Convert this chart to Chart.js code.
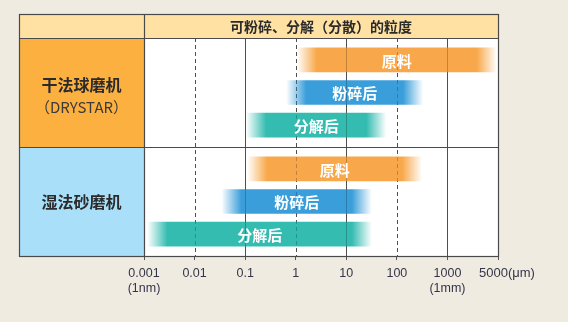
<!DOCTYPE html>
<html><head><meta charset="utf-8">
<script src="https://cdn.jsdelivr.net/npm/chart.js@4/dist/chart.umd.min.js"></script>
<style>html,body{margin:0;padding:0;background:#EFEBE1;}canvas{display:block;}</style>
</head><body>
<canvas id="c" width="568" height="322"></canvas>
<script>
// ---- data ----
const title = '可粉碎、分解（分散）的粒度';
const machines = ['干法球磨机', '湿法砂磨机'];
const machineSub = ['（DRYSTAR）', ''];
const stages = ['原料', '粉碎后', '分解后'];
// size ranges in µm, [min, max] per machine (dry, wet)
const rawRange = [[1.05, 4900], [0.11, 316]];
const crushedRange = [[0.65, 330], [0.034, 32]];
const dispersedRange = [[0.105, 62], [0.00117, 32]];
const tickValues = [0.001, 0.01, 0.1, 1, 10, 100, 1000, 5000];
const tickLabels = [['0.001', '(1nm)'], '0.01', '0.1', '1', '10', '100', ['1000', '(1mm)'], '5000(μm)'];
const dashedTicks = [0.01, 1, 100];

// ---- styles ----
const stageColors = [[248, 168, 74], [58, 158, 218], [52, 188, 177]];
const cellColors = ['#FBB040', '#AADFF9'];
const FADE = 20;

// axis position: log decades up to 1000, last step 1000→5000 spans one decade
function pos(v) { return v <= 1000 ? Math.log10(v) : 3 + (v - 1000) / 4000; }
function rowY(m, s) { return m * 3 + 0.6 + 0.9 * s; }
const ranges = [rawRange, crushedRange, dispersedRange];

function rgba(c, a) { return `rgba(${c[0]},${c[1]},${c[2]},${a})`; }

const datasets = stages.map((st, si) => ({
  label: st,
  data: machines.map((m, mi) => ({ y: rowY(mi, si), x: [pos(ranges[si][mi][0]), pos(ranges[si][mi][1])] })),
  barThickness: 24,
  grouped: false,
  borderWidth: 0,
  borderSkipped: false,
  backgroundColor: (c) => {
    const col = stageColors[si];
    if (c.type !== 'data' || !c.raw) return rgba(col, 1);
    const xs = c.chart.scales.x;
    if (!xs || !isFinite(xs.left)) return rgba(col, 1);
    const x0 = xs.getPixelForValue(c.raw.x[0]), x1 = xs.getPixelForValue(c.raw.x[1]);
    if (!isFinite(x0) || !isFinite(x1) || x1 - x0 < 2) return rgba(col, 1);
    const g = c.chart.ctx.createLinearGradient(x0, 0, x1, 0);
    const f = Math.min(0.45, FADE / (x1 - x0));
    g.addColorStop(0, rgba(col, 0));
    g.addColorStop(f, rgba(col, 1));
    g.addColorStop(1 - f, rgba(col, 1));
    g.addColorStop(1, rgba(col, 0));
    return g;
  }
}));

const FRAME = { left: 19, top: 14, headerBottom: 38 };
const LINE = '#4a4a4a';

function drawGrid(chart, color, alpha) {
  const { ctx, chartArea: a, scales: { x } } = chart;
  ctx.save();
  ctx.globalAlpha = alpha;
  ctx.strokeStyle = color; ctx.lineWidth = 1;
  tickValues.slice(1, -1).forEach(v => {
    const px = Math.round(x.getPixelForValue(pos(v))) + 0.5;
    ctx.setLineDash(dashedTicks.includes(v) ? [4, 3] : []);
    ctx.beginPath(); ctx.moveTo(px, a.top); ctx.lineTo(px, a.bottom); ctx.stroke();
  });
  ctx.restore();
}

const deco = {
  id: 'deco',
  beforeDraw(chart) {
    const { ctx, chartArea: a, width, height } = chart;
    ctx.save();
    ctx.fillStyle = '#EFEBE1'; ctx.fillRect(0, 0, width, height);
    ctx.fillStyle = '#FFE1A3';
    ctx.fillRect(FRAME.left, FRAME.top, a.right - FRAME.left, FRAME.headerBottom - FRAME.top);
    const mid = (a.top + a.bottom) / 2;
    ctx.fillStyle = cellColors[0]; ctx.fillRect(FRAME.left, a.top, a.left - FRAME.left, mid - a.top);
    ctx.fillStyle = cellColors[1]; ctx.fillRect(FRAME.left, mid, a.left - FRAME.left, a.bottom - mid);
    ctx.fillStyle = '#fff'; ctx.fillRect(a.left, a.top, a.right - a.left, a.bottom - a.top);
    // header title
    ctx.fillStyle = '#2b2b2b';
    ctx.font = 'bold 14px "Noto Sans CJK SC"';
    ctx.textAlign = 'center'; ctx.textBaseline = 'middle';
    ctx.fillText(title, (a.left + a.right) / 2, (FRAME.top + FRAME.headerBottom) / 2 + 1);
    // machine labels
    const cx = (FRAME.left + a.left) / 2;
    ctx.font = 'bold 16px "Noto Sans CJK SC"';
    ctx.fillStyle = '#2b2b2b';
    ctx.fillText(machines[0], cx, mid - 62);
    ctx.font = '15px "Noto Sans CJK SC"';
    ctx.fillStyle = '#3a3a3a';
    ctx.fillText(machineSub[0], cx, mid - 40);
    ctx.font = 'bold 16px "Noto Sans CJK SC"';
    ctx.fillStyle = '#2b2b2b';
    ctx.fillText(machines[1], cx, mid + 55);
    ctx.restore();
  },
  beforeDatasetsDraw(chart) { drawGrid(chart, '#666', 1); },
  afterDatasetsDraw(chart) {
    drawGrid(chart, '#000', 0.22);
    const { ctx, chartArea: a } = chart;
    ctx.save();
    // bar labels
    ctx.font = 'bold 15px "Noto Sans CJK SC"';
    ctx.fillStyle = '#fff'; ctx.textAlign = 'center'; ctx.textBaseline = 'middle';
    chart.data.datasets.forEach((ds, di) => {
      chart.getDatasetMeta(di).data.forEach(el => {
        ctx.fillText(ds.label, (el.x + el.base) / 2, el.y + 1);
      });
    });
    // frame lines
    const mid = (a.top + a.bottom) / 2;
    ctx.strokeStyle = LINE; ctx.lineWidth = 1.2;
    const L = FRAME.left + 0.5, R = Math.round(a.right) + 0.5, T = FRAME.top + 0.5, B = Math.round(a.bottom) + 0.5;
    ctx.strokeRect(L, T, R - L, B - T);
    ctx.beginPath();
    ctx.moveTo(L, FRAME.headerBottom + 0.5); ctx.lineTo(R, FRAME.headerBottom + 0.5);
    ctx.moveTo(L, Math.round(mid) + 0.5); ctx.lineTo(R, Math.round(mid) + 0.5);
    ctx.moveTo(Math.round(a.left) + 0.5, T); ctx.lineTo(Math.round(a.left) + 0.5, B);
    ctx.stroke();
    ctx.restore();
  },
  afterDraw(chart) {
    const { ctx, chartArea: a, scales: { x } } = chart;
    ctx.save();
    ctx.font = '13px "Liberation Sans"';
    ctx.fillStyle = '#35354a'; ctx.textAlign = 'left'; ctx.textBaseline = 'middle';
    ctx.fillText(tickLabels[7], x.getPixelForValue(pos(5000)) - 19, a.bottom + 17.5);
    ctx.restore();
  }
};

new Chart(document.getElementById('c'), {
  type: 'bar',
  data: { datasets },
  options: {
    indexAxis: 'y',
    responsive: false,
    animation: false,
    layout: { padding: { left: 144, right: 70, top: 38, bottom: 0 } },
    plugins: { legend: { display: false }, tooltip: { enabled: false } },
    scales: {
      y: { type: 'linear', min: 0, max: 6, reverse: true, display: false, offset: false },
      x: {
        type: 'linear', min: pos(0.001), max: pos(5000),
        afterBuildTicks: s => { s.ticks = tickValues.map(v => ({ value: pos(v) })); },
        afterFit: s => { s.height = 66; },
        border: { display: false },
        grid: { drawOnChartArea: false, drawTicks: true, tickLength: 4, color: '#555', tickColor: '#555' },
        ticks: {
          autoSkip: false, maxRotation: 0, padding: 6,
          font: { family: 'Liberation Sans', size: 12.5, lineHeight: 1.2 },
          color: '#35354a',
          callback: (v, i) => i === 7 ? '' : tickLabels[i]
        }
      }
    }
  },
  plugins: [deco]
});
</script>
</body></html>
